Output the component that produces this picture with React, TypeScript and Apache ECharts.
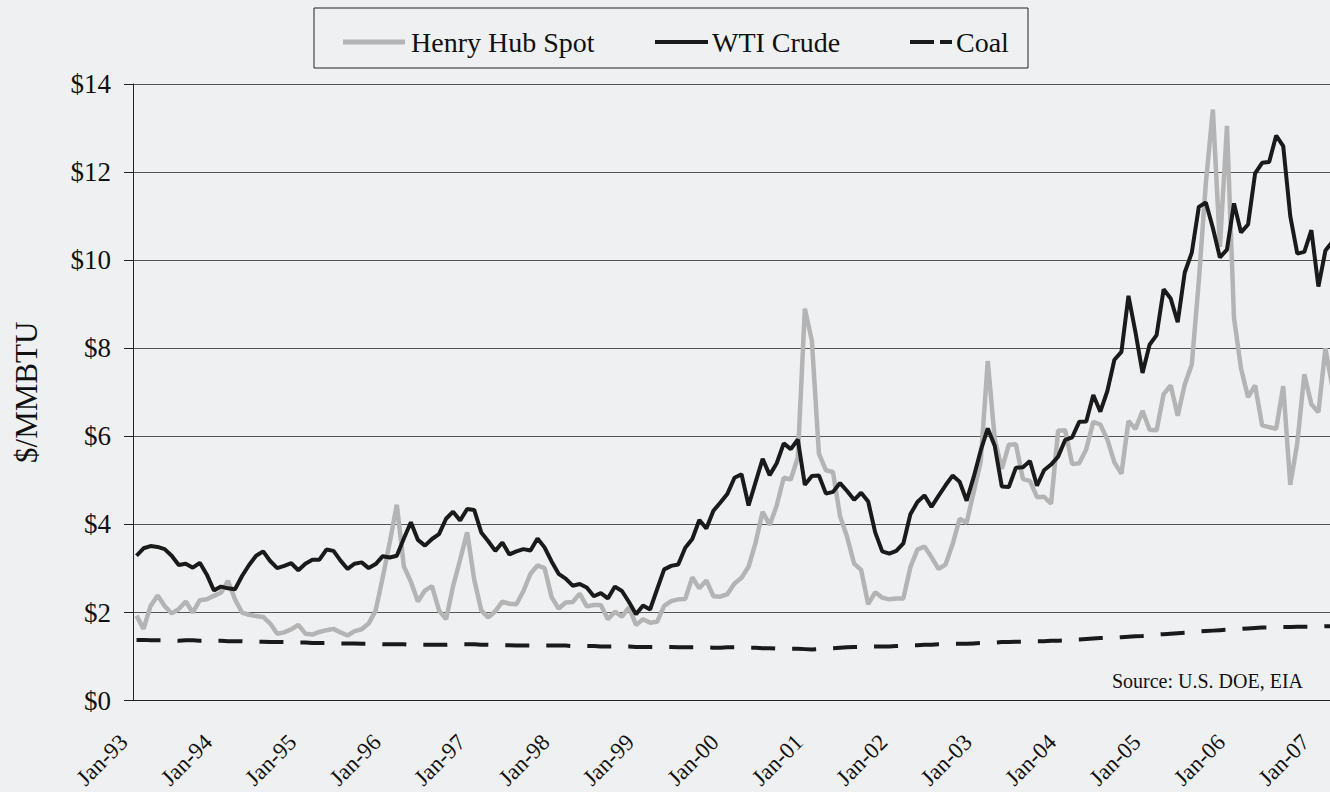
import React, { useEffect, useRef } from "react";
import * as echarts from "echarts";

const FONT = "'Liberation Serif', 'Times New Roman', serif";

const monthNames = ["Jan", "Feb", "Mar", "Apr", "May", "Jun", "Jul", "Aug", "Sep", "Oct", "Nov", "Dec"];
const yearLabels = ["93", "94", "95", "96", "97", "98", "99", "00", "01", "02", "03", "04", "05", "06", "07"];

// Henry Hub spot, $/MMBTU (monthly, Jan-93 .. Mar-07)
const hhSpot = [
  1.93, 1.63, 2.15, 2.39, 2.15, 1.98, 2.08, 2.25, 2.0, 2.28, 2.3, 2.38, // 1993
  2.45, 2.72, 2.3, 2.0, 1.95, 1.92, 1.9, 1.75, 1.52, 1.55, 1.62, 1.72, // 1994
  1.52, 1.5, 1.56, 1.6, 1.63, 1.55, 1.48, 1.58, 1.62, 1.75, 2.05, 2.8, // 1995
  3.6, 4.45, 3.05, 2.7, 2.25, 2.5, 2.6, 2.05, 1.85, 2.6, 3.2, 3.82, // 1996
  2.75, 2.05, 1.89, 2.03, 2.25, 2.2, 2.19, 2.49, 2.88, 3.07, 3.01, 2.35, // 1997
  2.09, 2.23, 2.24, 2.43, 2.14, 2.17, 2.17, 1.85, 2.02, 1.91, 2.12, 1.72, // 1998
  1.85, 1.77, 1.79, 2.15, 2.26, 2.3, 2.31, 2.8, 2.55, 2.73, 2.37, 2.36, // 1999
  2.42, 2.66, 2.79, 3.04, 3.59, 4.29, 3.99, 4.43, 5.06, 5.02, 5.52, 8.9, // 2000
  8.17, 5.61, 5.23, 5.19, 4.19, 3.72, 3.11, 2.97, 2.19, 2.46, 2.34, 2.3, // 2001
  2.32, 2.32, 3.03, 3.43, 3.5, 3.26, 2.99, 3.09, 3.55, 4.13, 4.04, 4.74, // 2002
  5.43, 7.71, 5.93, 5.26, 5.81, 5.82, 5.03, 4.99, 4.62, 4.63, 4.47, 6.13, // 2003
  6.14, 5.37, 5.39, 5.71, 6.33, 6.27, 5.93, 5.41, 5.15, 6.35, 6.17, 6.58, // 2004
  6.15, 6.14, 6.96, 7.16, 6.47, 7.18, 7.63, 9.53, 11.75, 13.42, 10.3, 13.05, // 2005
  8.69, 7.54, 6.89, 7.16, 6.25, 6.21, 6.17, 7.14, 4.9, 5.85, 7.41, 6.73, // 2006
  6.55, 8.0, 7.11, // 2007
];

// WTI crude, $/MMBTU
const wtiCrude = [
  3.29, 3.46, 3.51, 3.49, 3.44, 3.29, 3.08, 3.11, 3.02, 3.13, 2.86, 2.5, // 1993
  2.59, 2.55, 2.53, 2.83, 3.08, 3.29, 3.39, 3.17, 3.01, 3.06, 3.12, 2.96, // 1994
  3.11, 3.2, 3.2, 3.43, 3.4, 3.18, 2.99, 3.11, 3.14, 3.01, 3.1, 3.28, // 1995
  3.25, 3.29, 3.68, 4.05, 3.65, 3.52, 3.67, 3.78, 4.13, 4.29, 4.09, 4.35, // 1996
  4.33, 3.82, 3.62, 3.4, 3.59, 3.32, 3.39, 3.44, 3.41, 3.68, 3.48, 3.16, // 1997
  2.88, 2.77, 2.61, 2.65, 2.57, 2.37, 2.44, 2.32, 2.59, 2.49, 2.24, 1.96, // 1998
  2.16, 2.07, 2.53, 2.98, 3.06, 3.09, 3.47, 3.67, 4.1, 3.91, 4.31, 4.5, // 1999
  4.7, 5.06, 5.14, 4.43, 4.96, 5.49, 5.12, 5.39, 5.84, 5.71, 5.93, 4.9, // 2000
  5.1, 5.11, 4.7, 4.74, 4.94, 4.76, 4.56, 4.72, 4.52, 3.82, 3.39, 3.34, // 2001
  3.4, 3.57, 4.23, 4.51, 4.66, 4.4, 4.65, 4.89, 5.11, 4.97, 4.54, 5.08, // 2002
  5.68, 6.18, 5.78, 4.86, 4.85, 5.29, 5.3, 5.44, 4.88, 5.23, 5.36, 5.54, // 2003
  5.92, 5.98, 6.33, 6.34, 6.94, 6.56, 7.03, 7.74, 7.92, 9.19, 8.36, 7.44, // 2004
  8.08, 8.3, 9.34, 9.13, 8.59, 9.72, 10.17, 11.21, 11.31, 10.73, 10.06, 10.24, // 2005
  11.29, 10.63, 10.81, 11.97, 12.21, 12.23, 12.83, 12.59, 11.0, 10.15, 10.19, 10.68, // 2006
  9.4, 10.22, 10.42, // 2007
];

// Coal, $/MMBTU
const coal = [
  1.38, 1.38, 1.37, 1.37, 1.37, 1.37, 1.36, 1.37, 1.37, 1.36, 1.36, 1.36, // 1993
  1.36, 1.35, 1.35, 1.35, 1.34, 1.34, 1.34, 1.33, 1.33, 1.33, 1.33, 1.32, // 1994
  1.32, 1.31, 1.31, 1.31, 1.31, 1.3, 1.3, 1.3, 1.29, 1.29, 1.29, 1.28, // 1995
  1.28, 1.28, 1.28, 1.27, 1.27, 1.27, 1.27, 1.27, 1.27, 1.28, 1.28, 1.28, // 1996
  1.28, 1.27, 1.27, 1.26, 1.26, 1.26, 1.25, 1.25, 1.25, 1.25, 1.25, 1.25, // 1997
  1.25, 1.25, 1.24, 1.24, 1.24, 1.24, 1.23, 1.23, 1.23, 1.23, 1.23, 1.22, // 1998
  1.22, 1.22, 1.22, 1.22, 1.22, 1.21, 1.21, 1.21, 1.21, 1.21, 1.2, 1.2, // 1999
  1.21, 1.21, 1.2, 1.2, 1.2, 1.19, 1.19, 1.18, 1.18, 1.18, 1.18, 1.17, // 2000
  1.16, 1.17, 1.18, 1.19, 1.2, 1.21, 1.22, 1.22, 1.23, 1.23, 1.23, 1.23, // 2001
  1.24, 1.25, 1.26, 1.26, 1.27, 1.27, 1.28, 1.28, 1.29, 1.29, 1.29, 1.3, // 2002
  1.31, 1.32, 1.32, 1.33, 1.33, 1.34, 1.34, 1.34, 1.35, 1.35, 1.36, 1.36, // 2003
  1.37, 1.38, 1.39, 1.4, 1.41, 1.42, 1.42, 1.43, 1.44, 1.45, 1.46, 1.47, // 2004
  1.49, 1.5, 1.51, 1.52, 1.53, 1.54, 1.56, 1.57, 1.58, 1.59, 1.6, 1.61, // 2005
  1.62, 1.63, 1.64, 1.65, 1.66, 1.66, 1.67, 1.67, 1.67, 1.68, 1.68, 1.68, // 2006
  1.68, 1.69, 1.69, // 2007
];

const seriesNames = ["Henry Hub Spot", "WTI Crude", "Coal"];

const categories = yearLabels
  .flatMap((y) => monthNames.map((m) => `${m}-${y}`))
  .slice(0, hhSpot.length);

const HH_COLOR = "#b4b4b4";
const DARK = "#1a1a1a";
const COAL_DASH = [24, 17];

export default function App() {
  const ref = useRef<HTMLDivElement>(null);

  useEffect(() => {
    if (!ref.current) return;
    const chart = echarts.init(ref.current, undefined, { renderer: "svg" });
    const legendTextStyle = (text: string) => ({
      text,
      fontSize: 28,
      fontFamily: FONT,
      fill: "#111",
      align: "left",
      verticalAlign: "middle",
    });
    chart.setOption({
      animation: false,
      backgroundColor: "transparent",
      textStyle: { fontFamily: FONT },
      grid: { left: 133, top: 84, width: 1203, height: 620, containLabel: false },
      xAxis: {
        type: "category",
        data: categories,
        boundaryGap: true,
        axisLine: { lineStyle: { color: "#222", width: 1 } },
        axisTick: { interval: 11, length: 8, lineStyle: { color: "#222" } },
        axisLabel: {
          interval: 11,
          rotate: 45,
          margin: 25,
          padding: [0, 18, 0, 0],
          fontSize: 23,
          color: "#111",
          fontFamily: FONT,
        },
        splitLine: { show: false },
      },
      yAxis: {
        type: "value",
        min: 0,
        max: 14,
        interval: 2,
        name: "$/MMBTU",
        nameLocation: "middle",
        nameGap: 91,
        nameTextStyle: { fontSize: 31, color: "#111", fontFamily: FONT },
        axisLine: { show: true, lineStyle: { color: "#222" } },
        axisTick: { show: true, length: 9, lineStyle: { color: "#222" } },
        axisLabel: {
          formatter: (v: number) => "$" + v,
          fontSize: 27,
          color: "#111",
          margin: 22,
          fontFamily: FONT,
        },
        splitLine: { lineStyle: { color: "#555", width: 1 } },
      },
      series: [
        {
          name: seriesNames[0],
          type: "line",
          data: hhSpot,
          symbol: "none",
          showSymbol: false,
          lineStyle: { color: HH_COLOR, width: 4.5 },
          itemStyle: { color: HH_COLOR },
        },
        {
          name: seriesNames[1],
          type: "line",
          data: wtiCrude,
          symbol: "none",
          showSymbol: false,
          lineStyle: { color: DARK, width: 4 },
          itemStyle: { color: DARK },
        },
        {
          name: seriesNames[2],
          type: "line",
          data: coal,
          symbol: "none",
          showSymbol: false,
          lineStyle: { color: DARK, width: 4, type: COAL_DASH },
          itemStyle: { color: DARK },
        },
      ],
      graphic: [
        {
          type: "rect",
          shape: { x: 314, y: 8, width: 714, height: 60 },
          style: { fill: "none", stroke: "#222", lineWidth: 1 },
          silent: true,
        },
        {
          type: "line",
          shape: { x1: 343, y1: 42, x2: 405, y2: 42 },
          style: { stroke: HH_COLOR, lineWidth: 5 },
          silent: true,
        },
        { type: "text", x: 411, y: 42, style: legendTextStyle(seriesNames[0]), silent: true },
        {
          type: "line",
          shape: { x1: 655, y1: 42, x2: 708, y2: 42 },
          style: { stroke: DARK, lineWidth: 4 },
          silent: true,
        },
        { type: "text", x: 712, y: 42, style: legendTextStyle(seriesNames[1]), silent: true },
        {
          type: "line",
          shape: { x1: 910, y1: 42, x2: 952, y2: 42 },
          style: { stroke: DARK, lineWidth: 4, lineDash: [24, 6] },
          silent: true,
        },
        { type: "text", x: 956, y: 42, style: legendTextStyle(seriesNames[2]), silent: true },
        {
          type: "text",
          x: 1303,
          y: 681,
          style: {
            text: "Source: U.S. DOE, EIA",
            fontSize: 20,
            fontFamily: FONT,
            fill: "#111",
            align: "right",
            verticalAlign: "middle",
          },
          silent: true,
        },
      ],
    });
    return () => chart.dispose();
  }, []);

  return (
    <div
      style={{
        position: "absolute",
        left: 0,
        top: 0,
        width: 1330,
        height: 792,
        overflow: "hidden",
        background: "#eff0f2",
      }}
    >
      <div ref={ref} style={{ width: 1400, height: 792 }} />
    </div>
  );
}
